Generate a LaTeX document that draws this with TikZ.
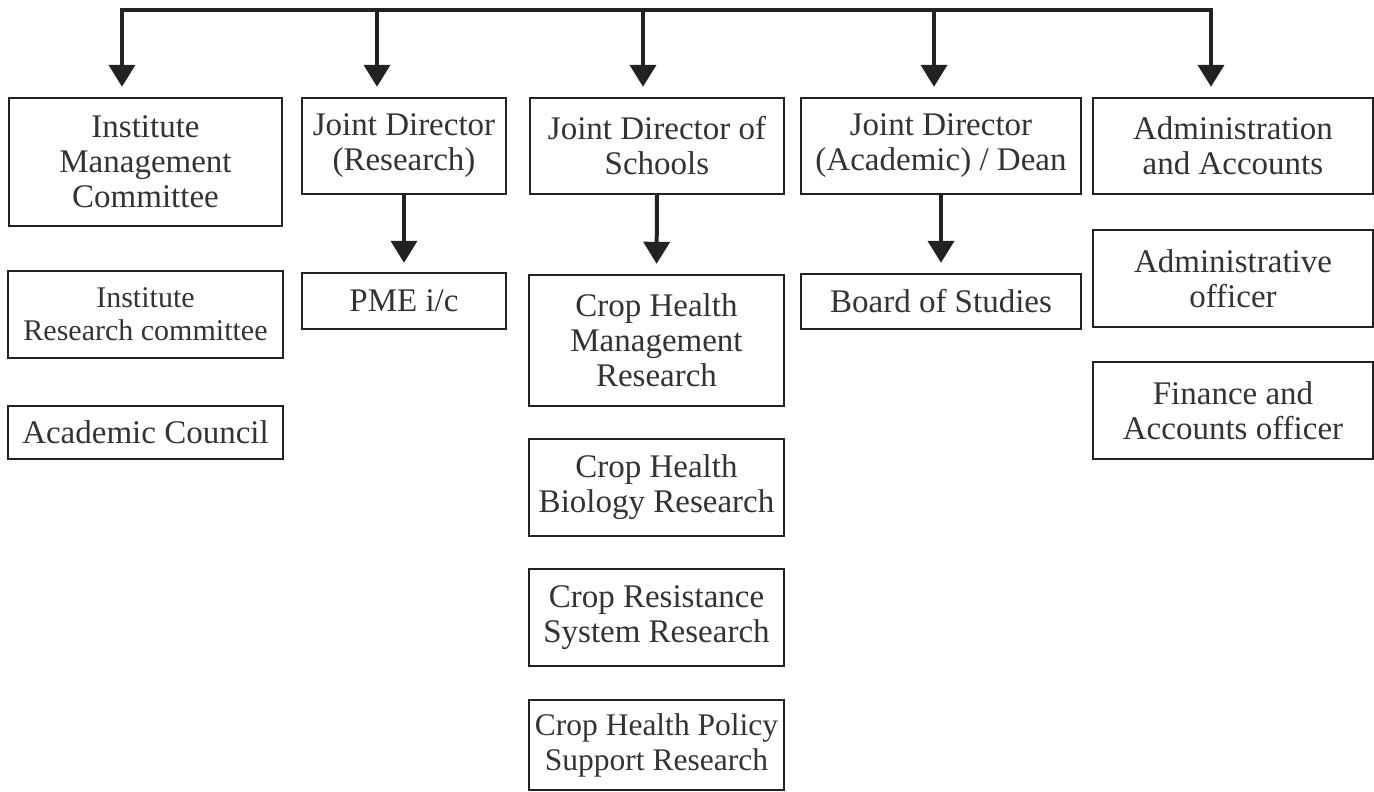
\documentclass[tikz,border=0pt]{standalone}
\usepackage{fontspec}
\setmainfont{Liberation Serif}
\usetikzlibrary{arrows.meta}
\definecolor{ink}{HTML}{222222}
\definecolor{txt}{HTML}{333333}
\begin{document}
\begin{tikzpicture}[x=1pt,y=-1pt,
  box/.style={draw=ink, line width=2.4pt, rectangle, inner sep=0pt, align=center, text=txt,
    font=\fontsize{33}{35}\selectfont},
  smallbox/.style={box, font=\fontsize{30}{33}\selectfont},
  arr/.style={draw=ink, line width=4pt, -{Triangle[width=26pt,length=22pt]}},
  bar/.style={draw=ink, line width=4pt, line cap=rect}]
\useasboundingbox (0,0) rectangle (1374,792);
% top-level boxes
\node[box, minimum width=273pt, minimum height=128pt] (imc) at (145.5,162) {Institute\\Management\\Committee};
\node[box, minimum width=204pt, minimum height=96pt] (jdr) at (404,146) {Joint Director\\(Research)};
\node[box, minimum width=254pt, minimum height=96pt] (jds) at (657,146) {Joint Director of\\Schools};
\node[box, minimum width=280pt, minimum height=96pt] (jda) at (941,146) {Joint Director\\(Academic) / Dean};
\node[box, minimum width=280pt, minimum height=96pt] (adm) at (1233,146) {Administration\\and Accounts};
% left column
\node[smallbox, minimum width=275pt, minimum height=87pt] (irc) at (145.5,314.5) {Institute\\Research committee};
\node[box, minimum width=275pt, minimum height=53pt] (ac) at (145.5,432.5) {Academic Council};
% second column
\node[box, minimum width=204pt, minimum height=56pt] (pme) at (404,301) {PME i/c};
% centre column
\node[box, minimum width=255pt, minimum height=131pt] (chm) at (656.5,340.5) {Crop Health\\Management\\Research};
\node[box, minimum width=255pt, minimum height=97pt] (chb) at (656.5,487.5) {Crop Health\\Biology Research};
\node[box, minimum width=255pt, minimum height=97pt] (crs) at (656.5,617.5) {Crop Resistance\\System Research};
\node[box, minimum width=255pt, minimum height=90pt, font=\fontsize{31.5}{35}\selectfont] (chp) at (656.5,745) {Crop Health Policy\\Support Research};
% fourth column
\node[box, minimum width=280pt, minimum height=55pt] (bos) at (941,301.5) {Board of Studies};
% right column
\node[box, minimum width=280pt, minimum height=97pt] (ao) at (1233,278.5) {Administrative\\officer};
\node[box, minimum width=280pt, minimum height=97pt] (fao) at (1233,410.5) {Finance and\\Accounts officer};
% top bar
\coordinate (t1) at (122,10);
\coordinate (t2) at (377,10);
\coordinate (t3) at (643,10);
\coordinate (t4) at (934,10);
\coordinate (t5) at (1211,10);
\draw[bar] (t1) -- (t5);
\draw[arr, shorten >=10pt] (t1) -- (t1 |- imc.north);
\draw[arr, shorten >=10pt] (t2) -- (t2 |- jdr.north);
\draw[arr, shorten >=10pt] (t3) -- (t3 |- jds.north);
\draw[arr, shorten >=10pt] (t4) -- (t4 |- jda.north);
\draw[arr, shorten >=10pt] (t5) -- (t5 |- adm.north);
% second-level arrows
\draw[arr, shorten >=9pt] (jdr.south) -- (pme.north);
\draw[arr, shorten >=10pt] (jds.south) -- (chm.north);
\draw[arr, shorten >=10pt] (jda.south) -- (bos.north);
\end{tikzpicture}
\end{document}
